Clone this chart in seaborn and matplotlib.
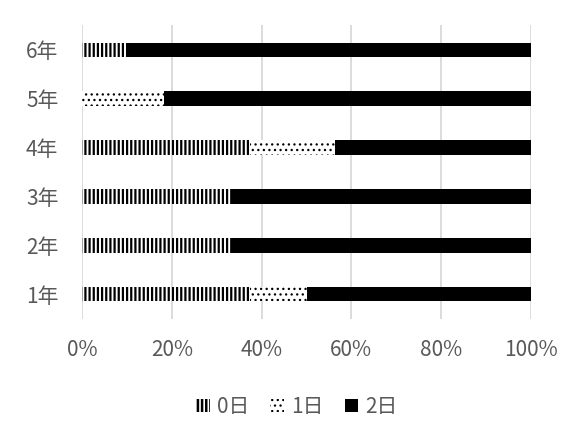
import matplotlib
matplotlib.use("Agg")
import matplotlib.pyplot as plt
from matplotlib.patches import Patch
import numpy as np
import pandas as pd
import seaborn as sns

# Share of students by number of days, per grade (%)
grades = ["1年", "2年", "3年", "4年", "5年", "6年"]
day0 = [37.5, 33.3, 33.3, 37.5, 0.0, 10.0]
day1 = [12.5, 0.0, 0.0, 18.75, 18.2, 0.0]
day2 = [50.0, 66.7, 66.7, 43.75, 81.8, 90.0]
series_labels = ["0日", "1日", "2日"]
x_ticks = [0, 20, 40, 60, 80, 100]
x_ticklabels = ["0%", "20%", "40%", "60%", "80%", "100%"]

sns.set_theme(style="white")
plt.rcParams["font.family"] = ["Noto Sans CJK JP", "DejaVu Sans"]

df = pd.DataFrame({"grade": grades, "d0": day0, "d1": day1, "d2": day2})
df["c0"] = df["d0"]
df["c1"] = df["d0"] + df["d1"]
df["c2"] = df["d0"] + df["d1"] + df["d2"]

order = grades[::-1]

fig = plt.figure(figsize=(5.74, 4.38), dpi=100)
ax = fig.add_axes([0.1429, 0.2728, 0.7822, 0.669])

# Stacked bars drawn as overlapping cumulative totals
styles = [("c2", "black", "", 1.0), ("c1", "white", "...", 0.9), ("c0", "white", "||||", 1.6)]
for col, face, hatch, hlw in styles:
    plt.rcParams["hatch.linewidth"] = hlw
    sns.barplot(data=df, x=col, y="grade", order=order, orient="h",
                color=face, width=0.3, ax=ax, errorbar=None,
                edgecolor="black", linewidth=0, hatch=hatch, saturation=1)

ax.set_xlim(0, 100)
ax.set_xticks(x_ticks)
ax.set_xticklabels(x_ticklabels)
ax.set_xlabel("")
ax.set_ylabel("")
ax.grid(axis="x", color="#d9d9d9", linewidth=1.3)
ax.set_axisbelow(True)
for s in ax.spines.values():
    s.set_visible(False)
ax.tick_params(axis="both", length=0, labelsize=15, colors="#595959")
ax.tick_params(axis="x", pad=15)
ax.tick_params(axis="y", pad=17)

plt.rcParams["hatch.linewidth"] = 1.8
h0 = Patch(facecolor="white", edgecolor="black", hatch="||||", linewidth=0, label=series_labels[0])
h1 = Patch(facecolor="white", edgecolor="black", hatch="...", linewidth=0, label=series_labels[1])
h2 = Patch(facecolor="black", edgecolor="black", linewidth=0, label=series_labels[2])
leg = fig.legend(handles=[h0, h1, h2], loc="center", bbox_to_anchor=(297 / 574, 1 - 407 / 438),
                 ncol=3, frameon=False, fontsize=15, handlelength=0.65, handleheight=0.6,
                 handletextpad=0.35, columnspacing=1.0)
legend_patches = leg.get_patches()
if hasattr(legend_patches[1], "set_hatch_linewidth"):
    legend_patches[1].set_hatch_linewidth(0.9)
for t in leg.get_texts():
    t.set_color("#595959")

fig.savefig("out.png", dpi=100)
